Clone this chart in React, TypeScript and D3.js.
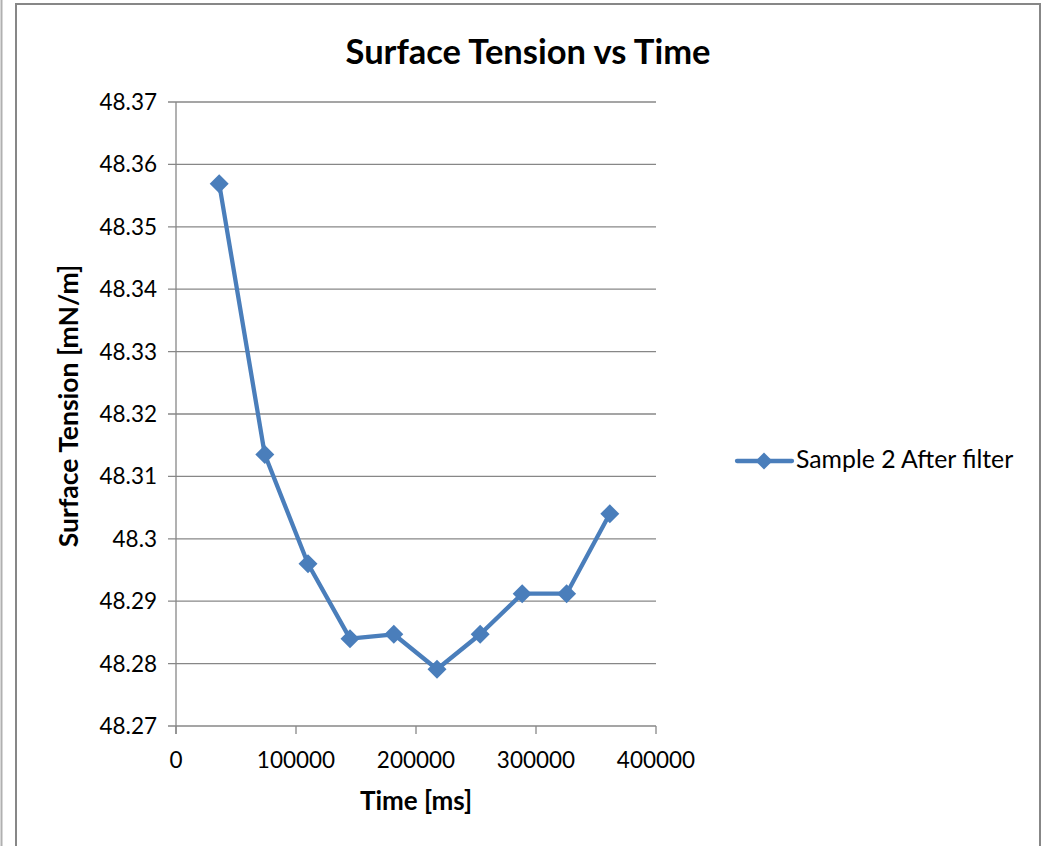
import React from "react";
import * as d3 from "d3";

const timeMs = [36000, 74000, 110000, 145000, 181500, 217500, 253500, 288500, 325500, 361500];
const tension = [48.3569, 48.3135, 48.2960, 48.2840, 48.2847, 48.2791, 48.2847, 48.2912, 48.2912, 48.3040];
const yTicks = [48.27, 48.28, 48.29, 48.3, 48.31, 48.32, 48.33, 48.34, 48.35, 48.36, 48.37];
const xTicks = [0, 100000, 200000, 300000, 400000];
const seriesName = "Sample 2 After filter";
const titleText = "Surface Tension vs Time";
const xTitle = "Time [ms]";
const yTitle = "Surface Tension [mN/m]";

const W = 1048, H = 846;
const FONT = "Lato, 'Open Sans', sans-serif";
const LINE = "#4a7ebb";
const GRID = "#878787";

export default function App() {
  const x = d3.scaleLinear().domain([0, 400000]).range([176, 656]);
  const y = d3.scaleLinear().domain([48.27, 48.37]).range([726, 102]);
  const line = d3.line<number>().x((_, i) => x(timeMs[i])).y((d) => y(d));
  const diamond = (cx: number, cy: number, r: number) =>
    `M${cx},${cy - r}L${cx + r},${cy}L${cx},${cy + r}L${cx - r},${cy}Z`;
  const fmtY = (v: number) => String(+v.toFixed(2));

  return (
    <svg width={W} height={H} style={{ position: "absolute", left: 0, top: 0 }}>
      <rect x={0} y={0} width={W} height={H} fill="#fff" />
      {/* frames */}
      <line x1={1.5} y1={0} x2={1.5} y2={H} stroke="#b0b0b0" strokeWidth={2} />
      <path d={`M16,${H}V4H1040V${H}`} fill="none" stroke="#878787" strokeWidth={2} />
      {/* title */}
      <text x={528} y={64} textAnchor="middle" fontFamily={FONT} fontWeight="bold" fontSize={34.5} fill="#000">
        {titleText}
      </text>
      {/* grid */}
      {yTicks.map((t) => (
        <g key={t}>
          <line x1={168} x2={656} y1={y(t)} y2={y(t)} stroke={GRID} strokeWidth={1.3} />
          <text x={157} y={y(t) + 8} textAnchor="end" fontFamily={FONT} fontSize={22.5} fill="#000">
            {fmtY(t)}
          </text>
        </g>
      ))}
      <line x1={176} x2={176} y1={102} y2={734} stroke={GRID} strokeWidth={1.3} />
      {xTicks.map((t) => (
        <g key={t}>
          <line x1={x(t)} x2={x(t)} y1={726} y2={734} stroke={GRID} strokeWidth={1.3} />
          <text x={x(t)} y={768} textAnchor="middle" fontFamily={FONT} fontSize={22.5} fill="#000">
            {t}
          </text>
        </g>
      ))}
      <text x={416} y={810} textAnchor="middle" fontFamily={FONT} fontWeight="bold" fontSize={26} fill="#000">
        {xTitle}
      </text>
      <text
        transform={`translate(78,406) rotate(-90)`}
        textAnchor="middle"
        fontFamily={FONT}
        fontWeight="bold"
        fontSize={26.5}
        fill="#000"
      >
        {yTitle}
      </text>
      {/* series */}
      <path d={line(tension) || ""} fill="none" stroke={LINE} strokeWidth={4.3} strokeLinejoin="round" />
      {tension.map((v, i) => (
        <path key={i} d={diamond(x(timeMs[i]), y(v), 9.5)} fill={LINE} />
      ))}
      {/* legend */}
      <line x1={737} x2={792} y1={461} y2={461} stroke={LINE} strokeWidth={4.3} strokeLinecap="round" />
      <path d={diamond(764, 461, 8.5)} fill={LINE} />
      <text x={796} y={468} fontFamily={FONT} fontSize={24.8} fill="#000">
        {seriesName}
      </text>
    </svg>
  );
}
